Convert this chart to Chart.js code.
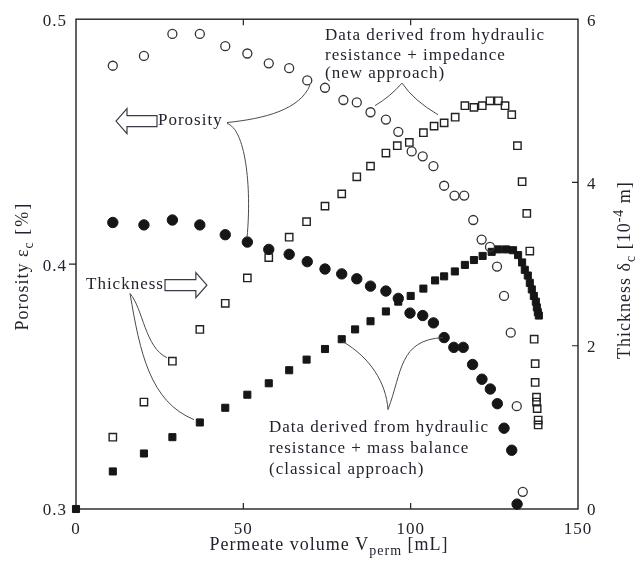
<!DOCTYPE html>
<html><head><meta charset="utf-8">
<script src="https://cdn.jsdelivr.net/npm/chart.js@4/dist/chart.umd.min.js"></script>
<style>html,body{margin:0;padding:0;background:#fff}canvas{display:block}</style>
</head><body>
<canvas id="c" width="635" height="562"></canvas>
<script>
// ---------- data ----------
const xTicks = [0, 50, 100, 150];
const yLeftTicks = [0.3, 0.4, 0.5];
const yRightTicks = [0, 2, 4, 6];

// Porosity, new approach (open circles)
const pNewX = [11.0,20.3,28.8,37.0,44.6,51.2,57.6,63.7,69.1,74.4,79.9,83.9,88.0,92.6,96.3,100.3,103.6,106.8,110.0,113.1,116.0,118.7,121.2,123.7,125.8,127.9,129.9,131.7,133.5];
const pNewY = [0.481,0.485,0.494,0.494,0.489,0.486,0.482,0.480,0.475,0.472,0.467,0.466,0.462,0.459,0.454,0.446,0.444,0.440,0.432,0.428,0.428,0.418,0.410,0.407,0.399,0.387,0.372,0.342,0.307];
// Porosity, classical approach (filled circles)
const pClsX = [11.0,20.3,28.8,37.0,44.6,51.2,57.6,63.7,69.1,74.4,79.4,83.9,88.0,92.6,96.3,99.8,103.6,106.8,110.0,112.9,115.7,118.5,121.3,123.8,125.9,127.9,130.2,131.8];
const pClsY = [0.417,0.416,0.418,0.416,0.412,0.409,0.406,0.404,0.401,0.398,0.396,0.394,0.391,0.389,0.386,0.380,0.379,0.376,0.370,0.366,0.366,0.359,0.353,0.349,0.343,0.333,0.324,0.302];
// Thickness, new approach (open squares), 10^-4 m
const tNewX = [11.0,20.3,28.8,37.0,44.6,51.2,57.6,63.7,68.9,74.4,79.4,83.9,88.0,92.6,96.0,99.6,103.8,107.0,110.0,113.3,116.2,118.9,121.4,123.7,126.2,128.2,130.2,131.9,133.3,134.7,135.6,136.9,137.2,137.2,137.6,137.6,137.8,138.1,138.1];
const tNewY = [0.88,1.31,1.81,2.20,2.52,2.83,3.08,3.33,3.52,3.71,3.86,4.07,4.20,4.36,4.45,4.49,4.61,4.69,4.73,4.80,4.94,4.92,4.94,5.00,5.00,4.94,4.83,4.45,4.01,3.62,3.16,2.08,1.78,1.55,1.37,1.31,1.23,1.09,1.03];
// Thickness, classical approach (filled squares)
const tClsX = [0,11.0,20.3,28.8,37.0,44.6,51.2,57.6,63.7,68.9,74.4,79.4,83.4,88.0,92.6,96.3,100.0,103.8,107.3,110.0,113.2,116.2,118.9,121.5,124.2,126.2,128.5,130.6,132.1,133.3,134.1,135.0,135.6,136.2,136.8,137.4,137.7,138.0,138.3];
const tClsY = [0,0.46,0.68,0.88,1.06,1.24,1.40,1.54,1.70,1.83,1.96,2.08,2.20,2.30,2.42,2.54,2.61,2.70,2.80,2.85,2.91,2.99,3.05,3.10,3.15,3.18,3.18,3.17,3.11,3.02,2.93,2.86,2.77,2.69,2.61,2.54,2.47,2.41,2.37];

// ---------- annotation texts ----------
const newNoteLines = ['Data derived from hydraulic', 'resistance + impedance', '(new approach)'];
const clsNoteLines = ['Data derived from hydraulic', 'resistance + mass balance', '(classical approach)'];

// ---------- styling / layout ----------
const SERIF = '"Liberation Serif","Times New Roman",serif';
const INK = '#23232f';
const MARK = '#161616';

function pts(xs, ys) { return xs.map((x, i) => ({ x: x, y: ys[i] })); }

// annotation geometry in data units (x in mL, y on the porosity axis)
const annot = {
  porosity: { x: 24.2, y: 0.4566, tipX: 11.95, arrowY: 0.4584 },
  thickness: { x: 2.99, y: 0.3900, fromX: 26.6, tipX: 39.1, arrowY: 0.3914 },
  newNote: { x: 74.4, ys: [0.4916, 0.4835, 0.4759] },
  clsNote: { x: 57.67, ys: [0.3313, 0.3229, 0.3141] },
  leaders: [
    [[45.12,0.4578],[56.47,0.4594],[66.93,0.4631],[69.92,0.4731]],
    [[45.12,0.4574],[50.50,0.4554],[52.59,0.4321],[51.10,0.4108]],
    [[16.14,0.3880],[20.02,0.3819],[20.62,0.3659],[27.19,0.3618]],
    [[16.14,0.3880],[19.12,0.3639],[22.11,0.3438],[35.26,0.3365]],
    [[97.41,0.4739],[93.82,0.4683],[89.34,0.4647]],
    [[97.41,0.4739],[101.0,0.4667],[108.17,0.4610]],
    [[93.23,0.3406],[92.63,0.3518],[87.85,0.3618],[79.78,0.3683]],
    [[93.23,0.3406],[97.5,0.3560],[96.5,0.3690],[109.66,0.3700]]
  ]
};

function richText(ctx, segs, size, x, y, rot) {
  ctx.save();
  ctx.translate(x, y);
  if (rot) ctx.rotate(rot);
  ctx.textAlign = 'left';
  ctx.textBaseline = 'alphabetic';
  const f = s => ((s.sub || s.sup) ? Math.round(size * 0.78) : size) + 'px ' + SERIF;
  const sp = s => (s.ls != null ? s.ls : 1) + 'px';
  let w = 0;
  for (const s of segs) { ctx.font = f(s); ctx.letterSpacing = sp(s); w += ctx.measureText(s.t).width; }
  let cx = -w / 2;
  for (const s of segs) {
    ctx.font = f(s);
    ctx.letterSpacing = sp(s);
    const dy = s.sub ? size * 0.28 : (s.sup ? -size * 0.38 : 0);
    ctx.fillText(s.t, cx, dy);
    cx += ctx.measureText(s.t).width;
  }
  ctx.restore();
}

function hollowArrow(ctx, tipX, baseX, cy, dir) {
  // dir = -1 points left, +1 points right
  const hl = 11, hh = 12.5, sh = 5.5;
  const hb = tipX - dir * hl;
  ctx.beginPath();
  ctx.moveTo(tipX, cy);
  ctx.lineTo(hb, cy - hh);
  ctx.lineTo(hb, cy - sh);
  ctx.lineTo(baseX, cy - sh);
  ctx.lineTo(baseX, cy + sh);
  ctx.lineTo(hb, cy + sh);
  ctx.lineTo(hb, cy + hh);
  ctx.closePath();
  ctx.fillStyle = '#fff';
  ctx.fill();
  ctx.lineWidth = 1.2;
  ctx.strokeStyle = '#3a3a44';
  ctx.stroke();
}

const deco = {
  id: 'deco',
  beforeInit(chart) { chart.ctx.letterSpacing = '1px'; },
  beforeDraw(chart) { chart.ctx.letterSpacing = '1px'; },
  beforeDatasetsDraw(chart) {
    const { ctx, chartArea: a, scales } = chart;
    ctx.save();
    ctx.strokeStyle = '#222';
    ctx.lineWidth = 1.4;
    ctx.strokeRect(a.left, a.top, a.right - a.left, a.bottom - a.top);
    ctx.lineWidth = 1.2;
    ctx.beginPath();
    for (const t of scales.x.ticks) {
      if (t.value <= scales.x.min || t.value >= scales.x.max) continue;
      const px = scales.x.getPixelForValue(t.value);
      ctx.moveTo(px, a.bottom); ctx.lineTo(px, a.bottom - 6);
      ctx.moveTo(px, a.top); ctx.lineTo(px, a.top + 6);
    }
    for (const t of scales.y.ticks) {
      if (t.value <= scales.y.min || t.value >= scales.y.max) continue;
      const py = scales.y.getPixelForValue(t.value);
      ctx.moveTo(a.left - 7, py); ctx.lineTo(a.left, py);
    }
    for (const t of scales.y2.ticks) {
      if (t.value <= scales.y2.min || t.value >= scales.y2.max) continue;
      const py = scales.y2.getPixelForValue(t.value);
      ctx.moveTo(a.right - 6, py); ctx.lineTo(a.right, py);
    }
    ctx.stroke();
    ctx.restore();
  },
  afterDatasetsDraw(chart) {
    const { ctx, chartArea: a, scales } = chart;
    const X = v => scales.x.getPixelForValue(v);
    const Y = v => scales.y.getPixelForValue(v);
    ctx.save();
    ctx.letterSpacing = '1px';
    // leader curves
    ctx.strokeStyle = '#4a4a4a';
    ctx.lineWidth = 1;
    for (const L of annot.leaders) {
      const p = L.map(q => [X(q[0]), Y(q[1])]);
      ctx.beginPath();
      ctx.moveTo(p[0][0], p[0][1]);
      if (p.length === 4) ctx.bezierCurveTo(p[1][0], p[1][1], p[2][0], p[2][1], p[3][0], p[3][1]);
      else ctx.quadraticCurveTo(p[1][0], p[1][1], p[2][0], p[2][1]);
      ctx.stroke();
    }
    // arrows
    hollowArrow(ctx, X(annot.porosity.tipX), X(annot.porosity.x), Y(annot.porosity.arrowY), -1);
    hollowArrow(ctx, X(annot.thickness.tipX), X(annot.thickness.fromX), Y(annot.thickness.arrowY), 1);
    // texts
    ctx.fillStyle = INK;
    ctx.font = '17px ' + SERIF;
    ctx.textAlign = 'left';
    ctx.textBaseline = 'alphabetic';
    ctx.fillText('Porosity', X(annot.porosity.x) + 1, Y(annot.porosity.y));
    ctx.fillText('Thickness', X(annot.thickness.x), Y(annot.thickness.y));
    newNoteLines.forEach((s, i) => ctx.fillText(s, X(annot.newNote.x), Y(annot.newNote.ys[i])));
    clsNoteLines.forEach((s, i) => ctx.fillText(s, X(annot.clsNote.x), Y(annot.clsNote.ys[i])));
    // axis titles with sub/superscripts
    const cy = (a.top + a.bottom) / 2;
    richText(ctx, [{ t: 'Permeate volume V' }, { t: 'perm', sub: true }, { t: ' [mL]' }], 18,
      (a.left + a.right) / 2 + 2, a.bottom + 41, 0);
    richText(ctx, [{ t: 'Porosity ε' }, { t: 'c', sub: true }, { t: ' [%]', ls: 2 }], 18,
      28, cy + 2, -Math.PI / 2);
    richText(ctx, [{ t: 'Thickness δ' }, { t: 'c', sub: true }, { t: ' [10' }, { t: '-4', sup: true }, { t: ' m]' }], 18,
      chart.width - 5, cy + 6, -Math.PI / 2);
    ctx.restore();
  }
};

const tickFont = { family: SERIF, size: 17 };

new Chart(document.getElementById('c'), {
  type: 'scatter',
  data: {
    datasets: [
      { label: 'Porosity (new approach)', data: pts(pNewX, pNewY), yAxisID: 'y',
        pointStyle: 'circle', pointRadius: 4.5, backgroundColor: 'rgba(255,255,255,0)', borderColor: '#333', borderWidth: 1.3, clip: false },
      { label: 'Porosity (classical approach)', data: pts(pClsX, pClsY), yAxisID: 'y',
        pointStyle: 'circle', pointRadius: 5.2, backgroundColor: MARK, borderColor: MARK, borderWidth: 1, clip: false },
      { label: 'Thickness (new approach)', data: pts(tNewX, tNewY), yAxisID: 'y2',
        pointStyle: 'rect', pointRadius: 5.2, backgroundColor: 'rgba(255,255,255,0)', borderColor: '#222', borderWidth: 1.4, clip: false },
      { label: 'Thickness (classical approach)', data: pts(tClsX, tClsY), yAxisID: 'y2',
        pointStyle: 'rect', pointRadius: 5.0, backgroundColor: MARK, borderColor: MARK, borderWidth: 1, clip: false }
    ]
  },
  options: {
    responsive: false,
    animation: false,
    devicePixelRatio: 1,
    layout: { padding: { top: 11, left: 0, right: 0, bottom: 0 } },
    plugins: { legend: { display: false }, tooltip: { enabled: false } },
    scales: {
      x: {
        type: 'linear', position: 'bottom', min: xTicks[0], max: xTicks[xTicks.length - 1],
        afterBuildTicks: s => { s.ticks = xTicks.map(v => ({ value: v })); },
        ticks: { font: tickFont, color: INK, padding: 10, maxRotation: 0, callback: v => String(v) },
        grid: { display: false, drawTicks: false }, border: { display: false },
        afterFit: s => { s.height = 53; }
      },
      y: {
        type: 'linear', position: 'left', min: yLeftTicks[0], max: yLeftTicks[yLeftTicks.length - 1],
        afterBuildTicks: s => { s.ticks = yLeftTicks.map(v => ({ value: v })); },
        ticks: { font: tickFont, color: INK, padding: 9, labelOffset: 2, callback: v => Number(v).toFixed(1) },
        grid: { display: false, drawTicks: false }, border: { display: false },
        afterFit: s => { s.width = 76; }
      },
      y2: {
        type: 'linear', position: 'right', min: yRightTicks[0], max: yRightTicks[yRightTicks.length - 1],
        afterBuildTicks: s => { s.ticks = yRightTicks.map(v => ({ value: v })); },
        ticks: { font: tickFont, color: INK, padding: 9, labelOffset: 2, callback: v => String(v) },
        grid: { display: false, drawTicks: false }, border: { display: false },
        afterFit: s => { s.width = 57; }
      }
    }
  },
  plugins: [deco]
});
</script>
</body></html>
